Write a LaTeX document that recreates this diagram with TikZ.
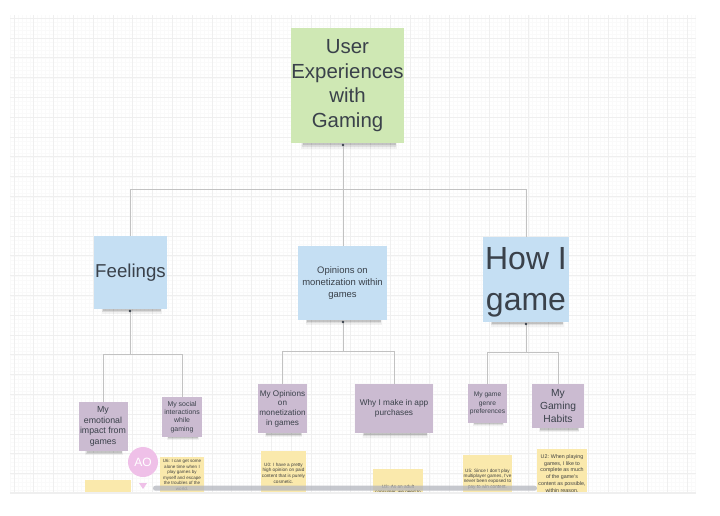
\documentclass[tikz,border=0pt]{standalone}
\usepackage{fontspec}
\setmainfont{Liberation Sans}
\definecolor{rootgreen}{HTML}{CFE8B4}
\definecolor{topicblue}{HTML}{C5DFF3}
\definecolor{subpurple}{HTML}{CBBBD1}
\definecolor{noteyellow}{HTML}{FAE9AC}
\definecolor{inkgrey}{HTML}{3A414A}
\definecolor{linegrey}{HTML}{C2C2C2}
\definecolor{gridmajor}{HTML}{EFEFEF}
\definecolor{gridminor}{HTML}{FAFAFA}
\definecolor{avatarpink}{HTML}{EFC0E8}
\definecolor{barGrey}{HTML}{B4B6BE}
\tikzset{
  x=0.75pt,y=-0.75pt,
  boxsize/.style 2 args={minimum width=#1*0.75pt,minimum height=#2*0.75pt},
  fs/.style 2 args={font=\fontsize{#1pt}{#2pt}\selectfont},
  sticky/.style={rectangle,inner sep=0pt,align=center,text=inkgrey},
  rootnote/.style={sticky,fill=rootgreen},
  topicnote/.style={sticky,fill=topicblue},
  subnote/.style={sticky,fill=subpurple},
  quotenote/.style={rectangle,inner sep=0pt,align=center,text=black!75,fill=noteyellow},
  link/.style={draw=linegrey,line width=0.75pt},
  sourcedot/.style={circle,fill=inkgrey,inner sep=0pt,minimum size=2pt},
  softshade/.style={fill=black,fill opacity=#1,draw=none},
}
\begin{document}
\begin{tikzpicture}
\useasboundingbox[fill=white] (0,0) rectangle (720,515);
% canvas grid
\begin{scope}
  \clip (10,15) rectangle (696,493);
  \foreach \k in {0,...,173}{
    \draw[gridminor,line width=0.4pt] ({10+3.96*\k},15) -- ({10+3.96*\k},493);}
  \foreach \k in {0,...,121}{
    \draw[gridminor,line width=0.4pt] (10,{14.6+3.96*\k}) -- (696,{14.6+3.96*\k});}
  \foreach \k in {0,...,34}{
    \draw[gridmajor,line width=0.55pt] ({14+19.8*\k},15) -- ({14+19.8*\k},493);}
  \foreach \k in {0,...,24}{
    \draw[gridmajor,line width=0.55pt] (10,{18.2+19.8*\k}) -- (696,{18.2+19.8*\k});}
\end{scope}
% sticky notes
\node[rootnote,boxsize={113}{115},fs={15.3}{18.6}] (root) at (347.5,85.5) {User\\Experiences\\with\\Gaming};
\node[topicnote,boxsize={73}{73},fs={14}{16}] (feel) at (130.5,272.5) {Feelings};
\node[topicnote,boxsize={89}{74},fs={7.1}{9.2}] (opin) at (342.5,283) {Opinions on\\monetization within\\games};
\node[topicnote,boxsize={86}{85},fs={24}{31}] (how) at (526,279.5) {\rule{0pt}{20.5pt}How I\\game};
\node[subnote,boxsize={49}{49},fs={6.6}{7.9}] (emo) at (103,426.5) {My\\emotional\\impact from\\games};
\node[subnote,boxsize={40}{40},fs={5.2}{6.2}] (soc) at (182,417) {My social\\interactions\\while\\gaming};
\node[subnote,boxsize={49}{49},fs={6.1}{7.3}] (myop) at (282.5,408.5) {My Opinions\\on\\monetization\\in games};
\node[subnote,boxsize={78}{49},fs={6.2}{7.5}] (why) at (394,408.5) {Why I make in app\\purchases};
\node[subnote,boxsize={39}{39},fs={5}{6.2}] (genre) at (487.5,403.5) {My game\\genre\\preferences};
\node[subnote,boxsize={52}{44},fs={7.7}{9.4}] (habit) at (558,406) {My\\Gaming\\Habits};
% soft shadows under the notes
\foreach \n/\d in {root/1.3,feel/1,opin/1,how/1,emo/.9,soc/.7,myop/.9,why/1,genre/.7,habit/.9}{
  \fill[softshade=.05] ([xshift=6*\d pt]\n.south west) rectangle ([xshift=-4*\d pt,yshift=-3.2*\d pt]\n.south east);
  \fill[softshade=.08] ([xshift=6.5*\d pt]\n.south west) rectangle ([xshift=-4.5*\d pt,yshift=-2.2*\d pt]\n.south east);
  \fill[softshade=.12] ([xshift=7*\d pt]\n.south west) rectangle ([xshift=-5*\d pt,yshift=-1.1*\d pt]\n.south east);
}
% connectors
\coordinate (busroot) at (343,189);
\coordinate (busfeel) at (130,354);
\coordinate (busopin) at (343,351);
\coordinate (bushow) at (526,352);
\draw[link] (busroot |- root.south) -- (busroot);
\draw[link] (busroot) -| (feel.north);
\draw[link] (busroot) -- (busroot |- opin.north);
\draw[link] (busroot) -| (how.north);
\draw[link] (busfeel |- feel.south) -- (busfeel);
\draw[link] (busfeel) -| (emo.north);
\draw[link] (busfeel) -| (soc.north);
\draw[link] (busopin |- opin.south) -- (busopin);
\draw[link] (busopin) -| (myop.north);
\draw[link] (busopin) -| (why.north);
\draw[link] (how.south) -- (bushow);
\draw[link] (bushow) -| (genre.north);
\draw[link] (bushow) -| (habit.north);
\node[sourcedot] (dotroot) at (343,145) {};
\node[sourcedot] (dotfeel) at (130,311) {};
\node[sourcedot] (dotopin) at (343,322) {};
\node[sourcedot] (dothow) at (526,324) {};
% quotes, cut off by the end of the canvas
\begin{scope}
  \clip (0,0) rectangle (720,493);
  \node[quotenote,boxsize={46}{46}] (blank) at (108,503) {};
  \node[quotenote,boxsize={44}{36},fs={3.4}{4.1}] (uaa) at (182,475) {U6: I can get some\\alone time when I\\play games by\\myself and escape\\the troubles of the\\world.};
  \node[quotenote,boxsize={45}{44},fs={3.5}{4.2}] (ubb) at (283.5,473) {U0: I have a pretty\\high opinion on paid\\content that is purely\\cosmetic.};
  \node[quotenote,boxsize={50}{41},fs={3.5}{4}] (ucc) at (398,489.5) {U3: As an adult\\consumer, we need to};
  \node[quotenote,boxsize={49}{48},fs={3.5}{4.1}] (udd) at (487.5,479) {U5: Since I don't play\\multiplayer games, I've\\never been exposed to\\pay to win content.};
  \node[quotenote,boxsize={50}{49},fs={4}{5.2}] (uee) at (562,473.5) {U2: When playing\\games, I like to\\complete as much\\of the game's\\content as possible,\\within reason.};
\end{scope}
% canvas edge, avatar and scrollbar
\draw[gridmajor,line width=0.9pt] (10,493) -- (696,493);
\node[circle,fill=avatarpink,minimum size=22.5pt,inner sep=0pt,text=white,fs={9}{11}] (avatar) at (143,462) {AO};
\fill[avatarpink] (139,483) -- (147,483) -- (143,489) -- cycle;
\fill[barGrey,opacity=.75,rounded corners=1.8pt] (153,485.7) rectangle (537,490.7);
\end{tikzpicture}
\end{document}
